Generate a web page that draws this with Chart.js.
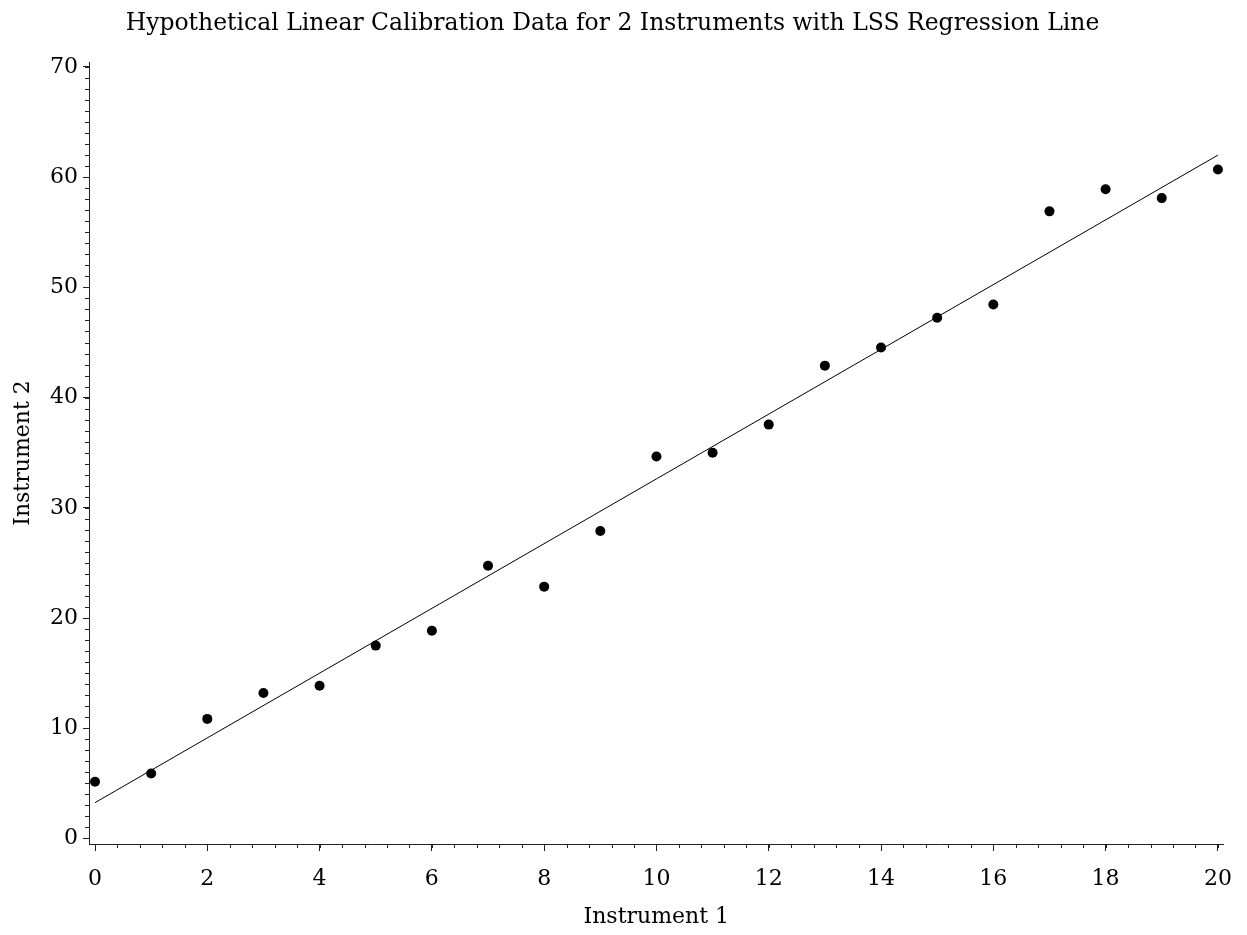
<!DOCTYPE html>
<html>
<head>
<meta charset="utf-8">
<script src="https://cdn.jsdelivr.net/npm/chart.js@4"></script>
<style>
  html, body { margin: 0; padding: 0; background: #fff; }
  #wrap { width: 1247px; height: 935px; }
</style>
</head>
<body>
<div id="wrap"><canvas id="c" width="1247" height="935"></canvas></div>
<script>
// ===== Data
const instrument1 = [0, 1, 2, 3, 4, 5, 6, 7, 8, 9, 10, 11, 12, 13, 14, 15, 16, 17, 18, 19, 20];
const instrument2 = [5.15, 5.9, 10.85, 13.2, 13.85, 17.5, 18.85, 24.75, 22.85, 27.9, 34.65,
                     35.0, 37.55, 42.9, 44.55, 47.25, 48.45, 56.9, 58.9, 58.1, 60.7];
const fitX = [0, 20];
const fitY = [3.25, 62.0];

const xTicks = [0, 2, 4, 6, 8, 10, 12, 14, 16, 18, 20];
const yTicks = [0, 10, 20, 30, 40, 50, 60, 70];
const xMinorStep = 0.4;
const yMinorStep = 1;

const FONT = "'DejaVu Serif', serif";
const INK = '#000';
const AXIS = '#222';

// ===== Minor ticks (drawn outward from the axis lines)
const minorTicks = {
  id: 'minorTicks',
  afterDraw(chart) {
    const { ctx, chartArea, scales } = chart;
    const x = scales.x, y = scales.y;
    ctx.save();
    ctx.strokeStyle = AXIS;
    ctx.lineWidth = 1;
    ctx.beginPath();
    for (let v = Math.ceil(x.min / xMinorStep) * xMinorStep; v <= x.max + 1e-9; v += xMinorStep) {
      const px = Math.round(x.getPixelForValue(v)) + 0.5;
      ctx.moveTo(px, chartArea.bottom);
      ctx.lineTo(px, chartArea.bottom + 4);
    }
    for (let v = Math.ceil(y.min / yMinorStep) * yMinorStep; v <= y.max + 1e-9; v += yMinorStep) {
      const py = Math.round(y.getPixelForValue(v)) + 0.5;
      ctx.moveTo(chartArea.left, py);
      ctx.lineTo(chartArea.left - 4, py);
    }
    ctx.stroke();
    ctx.restore();
  }
};

new Chart(document.getElementById('c'), {
  type: 'scatter',
  data: {
    datasets: [
      {
        label: 'Calibration data',
        data: instrument1.map((v, i) => ({ x: v, y: instrument2[i] })),
        backgroundColor: INK,
        borderColor: INK,
        pointRadius: 5,
        borderWidth: 0
      },
      {
        label: 'LSS regression line',
        type: 'line',
        data: fitX.map((v, i) => ({ x: v, y: fitY[i] })),
        borderColor: INK,
        borderWidth: 1,
        pointRadius: 0,
        fill: false
      }
    ]
  },
  options: {
    responsive: false,
    animation: false,
    layout: { padding: { left: 0, right: 22, top: 0, bottom: 0 } },
    plugins: {
      legend: { display: false },
      tooltip: { enabled: false },
      title: {
        display: true,
        text: 'Hypothetical Linear Calibration Data for 2 Instruments with LSS Regression Line',
        color: INK,
        font: { family: FONT, size: 23.5, weight: 'normal' },
        padding: { top: 10, bottom: 23.8 }
      }
    },
    scales: {
      x: {
        type: 'linear',
        min: -0.107,
        max: 20.1,
        afterBuildTicks: s => { s.ticks = xTicks.map(v => ({ value: v })); },
        afterFit: s => { s.height = 91; },
        border: { display: true, color: AXIS, width: 1 },
        grid: { display: true, drawOnChartArea: false, drawTicks: true, tickLength: 7, color: AXIS },
        ticks: { color: INK, font: { family: FONT, size: 22 }, padding: 15, maxRotation: 0, autoSkip: false },
        title: {
          display: true,
          text: 'Instrument 1',
          color: INK,
          font: { family: FONT, size: 22 },
          padding: { top: 0, bottom: 5 }
        }
      },
      y: {
        type: 'linear',
        min: -0.5,
        max: 70.45,
        afterBuildTicks: s => { s.ticks = yTicks.map(v => ({ value: v })); },
        afterFit: s => { s.width = 89; },
        border: { display: true, color: AXIS, width: 1 },
        grid: { display: true, drawOnChartArea: false, drawTicks: true, tickLength: 6, color: AXIS },
        ticks: { color: INK, font: { family: FONT, size: 22 }, padding: 5, autoSkip: false },
        title: {
          display: true,
          text: 'Instrument 2',
          color: INK,
          font: { family: FONT, size: 22 },
          padding: { top: 10, bottom: 0 }
        }
      }
    }
  },
  plugins: [minorTicks]
});
</script>
</body>
</html>
